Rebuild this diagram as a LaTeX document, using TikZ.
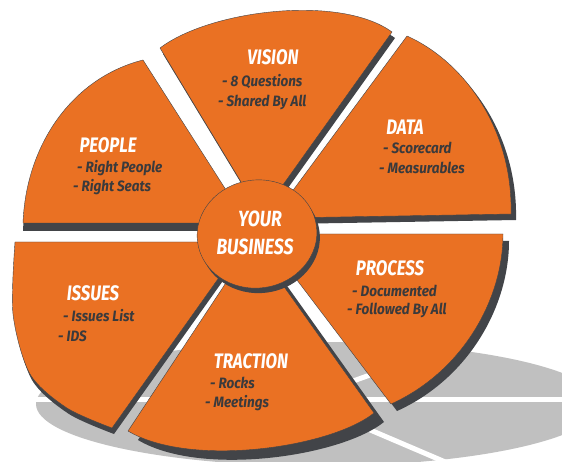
\documentclass[tikz,border=0pt]{standalone}
\usepackage{fontspec}
\newfontfamily\wf{Fira Sans}[FakeStretch=0.8]
\newfontfamily\wi{Fira Sans}[FakeStretch=0.9]
\definecolor{wo}{RGB}{234,113,35}
\definecolor{wd}{RGB}{66,68,72}
\definecolor{wsh}{RGB}{192,192,192}
\definecolor{wt}{RGB}{58,58,60}
\tikzset{
  piece/.style={fill=wo, draw=wd, line width=0.4pt, line join=round},
  side/.style={fill=wd},
  ttl/.style={font=\wf\bfseries\itshape\fontsize{21}{21}\selectfont, text=white, inner sep=0pt},
  itm/.style={font=\wi\bfseries\itshape\fontsize{15}{15}\selectfont, text=wt, inner sep=0pt, anchor=west},
  ctr/.style={font=\wf\bfseries\itshape\fontsize{22}{22}\selectfont, text=white, inner sep=0pt},
  gapline/.style={draw=white, line width=5pt}
}
\def\pPeople{(230,223) -- (23,223) .. controls (26,145) and (72,78) .. (143,60) -- (242,215) -- cycle}
\def\pVision{(258,210) -- (160,48) .. controls (210,10) and (340,-6) .. (392,32) -- (265,210) -- cycle}
\def\pData{(277,212) -- (407,36) .. controls (465,62) and (513,130) .. (511,214) -- (280,218) -- cycle}
\def\pProcess{(280,234) -- (503,234) .. controls (503,300) and (462,372) .. (391,404) -- (278,255) -- cycle}
\def\pTraction{(265,260) -- (374,413) .. controls (330,448) and (190,468) .. (128,431) -- (241,260) -- cycle}
\def\pIssues{(235,255) -- plot[smooth] coordinates {(112,428) (67,408) (30,374) (13,314) (15,242)} -- (230,242) -- cycle}
\begin{document}
\begin{tikzpicture}[x=1pt,y=-1pt]
\useasboundingbox (0,0) rectangle (562,462);
\fill[white] (0,0) rectangle (562,462);
% ground shadow
\fill[wsh] (318,404) ellipse [x radius=282, y radius=62];
\coordinate (sc) at (300,400);
\coordinate (sl) at (30,399);
\coordinate (sr) at (570,399);
\coordinate (sd) at (450,464);
\coordinate (su) at (440,350);
\draw[gapline] (sl) -- (sr);
\draw[gapline] (sc) -- (sd);
\draw[gapline] (sc) -- (su);
% thickness of the pieces
\fill[side, shift={(0,8)}] \pPeople;
\fill[side, shift={(3,6)}] \pVision;
\fill[side, shift={(5,6)}] \pData;
\fill[side, shift={(6,7)}] \pProcess;
\fill[side, shift={(10,9)}] \pTraction;
\fill[side, shift={(2,6)}] \pIssues;
% pieces
\path[piece] \pPeople;
\path[piece] \pVision;
\path[piece] \pData;
\path[piece] \pProcess;
\path[piece] \pTraction;
\path[piece] \pIssues;
% centre disc
\fill[side, rotate around={8:(260,239)}] (260,239) ellipse [x radius=60, y radius=54];
\path[piece, rotate around={8:(257,234)}] (257,234) ellipse [x radius=60, y radius=54];
\node[ctr] (your) at (260,219) {YOUR};
\node[ctr] (bus) at (255,247) {BUSINESS};
% labels
\node[ttl] (tv) at (273,57) {VISION};
\node[itm] (v1) at (222,82) {- 8 Questions};
\node[itm] (v2) at (218,102) {- Shared By All};
\node[ttl] (tp) at (108,145) {PEOPLE};
\node[itm] (p1) at (77,168) {- Right People};
\node[itm] (p2) at (73,187) {- Right Seats};
\node[ttl] (td) at (405,127) {DATA};
\node[itm] (d1) at (383,148) {- Scorecard};
\node[itm] (d2) at (379,168) {- Measurables};
\node[ttl] (tpr) at (390,268) {PROCESS};
\node[itm] (pr1) at (352,291) {- Documented};
\node[itm] (pr2) at (347,310) {- Followed By All};
\node[ttl] (ti) at (93,293) {ISSUES};
\node[itm] (i1) at (63,316) {- Issues List};
\node[itm] (i2) at (58,336) {- IDS};
\node[ttl] (tt) at (251,361) {TRACTION};
\node[itm] (t1) at (210,383) {- Rocks};
\node[itm] (t2) at (205,403) {- Meetings};
\end{tikzpicture}
\end{document}
